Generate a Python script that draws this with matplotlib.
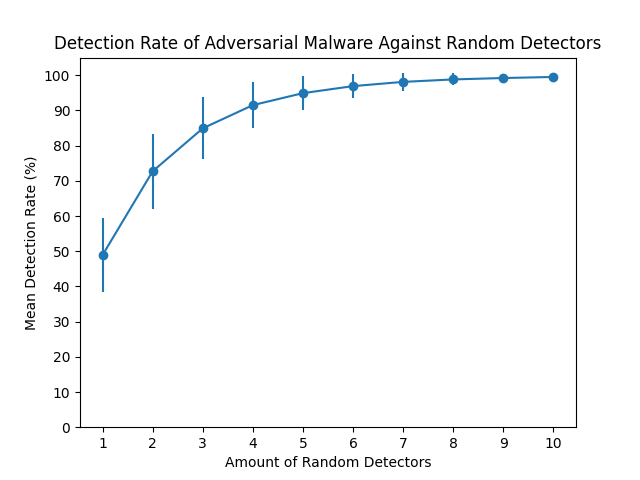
import matplotlib
matplotlib.use("Agg")
import matplotlib.pyplot as plt
import numpy as np

n_detectors = [1, 2, 3, 4, 5, 6, 7, 8, 9, 10]
mean_rate = [48.9, 72.7, 84.9, 91.5, 94.9, 96.9, 98.1, 98.8, 99.2, 99.5]
std_rate = [10.5, 10.7, 8.8, 6.5, 4.8, 3.4, 2.5, 1.7, 0.8, 0.3]

fig, ax = plt.subplots(figsize=(6.4, 4.8), dpi=100)
ax.errorbar(n_detectors, mean_rate, yerr=std_rate, fmt="-o")
ax.set_xticks(n_detectors)
ax.set_yticks(np.arange(0, 101, 10))
ax.set_ylim(0, 105)
ax.set_xlabel("Amount of Random Detectors")
ax.set_ylabel("Mean Detection Rate (%)")
ax.set_title("Detection Rate of Adversarial Malware Against Random Detectors")
fig.savefig("out.png")
